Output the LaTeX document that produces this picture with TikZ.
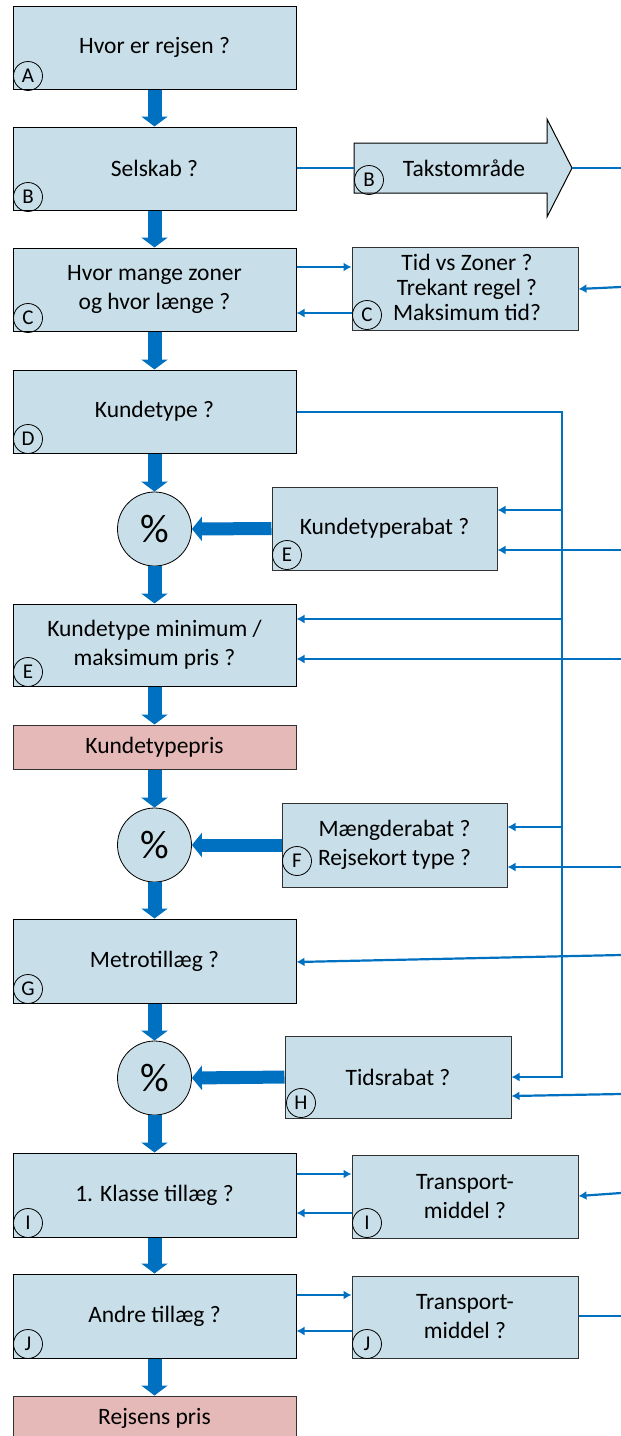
\documentclass[tikz,border=0pt]{standalone}
\usepackage{fontspec}
\setmainfont{Carlito}
\usetikzlibrary{arrows.meta}
\definecolor{boxblue}{RGB}{200,222,232}
\definecolor{boxpink}{RGB}{229,185,183}
\definecolor{linkblue}{RGB}{0,112,192}
\definecolor{darkedge}{RGB}{50,50,50}
\tikzset{
  mainbox/.style={draw=black, line width=1pt, fill=boxblue, minimum width=283pt, minimum height=83pt, inner sep=0pt, align=center, font=\fontsize{23.5}{29}\selectfont},
  pinkbox/.style={draw=darkedge, line width=1pt, fill=boxpink, minimum width=283pt, minimum height=44pt, inner sep=0pt, align=center, font=\fontsize{23.5}{29}\selectfont},
  sidebox/.style={draw=darkedge, line width=1pt, fill=boxblue, minimum width=226pt, minimum height=83pt, inner sep=0pt, align=center, font=\fontsize{23.5}{29}\selectfont},
  pctcircle/.style={circle, draw=black, line width=0.8pt, fill=boxblue, minimum size=74pt, inner sep=0pt, font=\fontsize{40}{44}\selectfont},
  letter/.style={circle, draw=black, line width=0.8pt, minimum size=29pt, inner sep=0pt, font=\fontsize{21}{22}\selectfont},
  bigarrow/.style={draw=linkblue, line width=14pt, -{Triangle[width=26pt,length=10pt]}},
  link/.style={draw=linkblue, line width=2.2pt, -{Latex[length=8pt,width=9pt]}},
  plainlink/.style={draw=linkblue, line width=2.2pt},
}
\begin{document}
\begin{tikzpicture}[x=1pt,y=-1pt]
\useasboundingbox (0,0) rectangle (621,1436);
\begin{scope}
\clip (0,0) rectangle (621,1436);
% main column
\node[mainbox] (A) at (154.5,47.5) {Hvor er rejsen ?};
\node[mainbox] (B) at (154.5,168.5) {Selskab ?};
\node[mainbox] (C) at (154.5,289.5) {Hvor mange zoner\\og hvor længe ?};
\node[mainbox] (D) at (154.5,411.5) {Kundetype ?};
\node[pctcircle] (P1) at (154.5,529) {\%};
\node[mainbox, minimum height=82pt] (E) at (154.5,645) {Kundetype minimum /\\maksimum pris ?};
\node[pinkbox] (KP) at (154.5,747) {Kundetypepris};
\node[pctcircle] (P2) at (154.5,845) {\%};
\node[mainbox, minimum height=84pt] (G) at (154.5,961) {Metrotillæg ?};
\node[pctcircle] (P3) at (154.5,1078) {\%};
\node[mainbox, minimum height=84pt] (I) at (154.5,1195) {1. Klasse tillæg ?};
\node[mainbox, minimum height=84pt] (J) at (154.5,1316) {Andre tillæg ?};
\node[pinkbox] (RP) at (154.5,1418) {Rejsens pris};

% side boxes
\filldraw[draw=black, line width=1pt, fill=boxblue]
  (354,143) -- (547,143) -- (547,119) -- (572,168) -- (547,217) -- (547,193) -- (354,193) -- cycle;
\coordinate (TW) at (354,168);
\coordinate (TT) at (572,168);
\node[font=\fontsize{23.5}{29}\selectfont] (TX) at (464,168) {Takstområde};
\node[sidebox] (CR) at (465,288.5) {};
\node[font=\fontsize{23.5}{25}\selectfont, align=center] at (467,287) {Tid vs Zoner ?\\Trekant regel ?\\Maksimum tid?};
\node[sidebox, minimum width=225pt] (KR) at (384.5,528.5) {Kundetyperabat ?};
\node[sidebox, minimum width=225pt, minimum height=84pt] (FR) at (394.5,845) {Mængderabat ?\\Rejsekort type ?};
\node[sidebox, minimum height=82pt] (HR) at (398,1077) {Tidsrabat ?};
\node[sidebox] (IR) at (465,1196.5) {Transport-\\middel ?};
\node[sidebox, minimum height=82pt] (JR) at (465,1317) {Transport-\\middel ?};

% letter circles
\node[letter] at (28,76) {A};
\node[letter] at (28,197) {B};
\node[letter] at (28,318) {C};
\node[letter] at (28,439) {D};
\node[letter] at (28,672) {E};
\node[letter] at (28,989) {G};
\node[letter] at (28,1223) {I};
\node[letter] at (28,1344) {J};
\node[letter] at (369,180) {B};
\node[letter] at (367,315) {C};
\node[letter] at (287,555) {E};
\node[letter] at (297,861) {F};
\node[letter] at (301,1103) {H};
\node[letter] at (367,1223) {I};
\node[letter] at (367,1344) {J};

% thick flow arrows
\draw[bigarrow] (A.south) -- (B.north);
\draw[bigarrow] (B.south) -- (C.north);
\draw[bigarrow] (C.south) -- (D.north);
\draw[bigarrow] (D.south) -- (P1.north);
\draw[bigarrow] (P1.south) -- (E.north);
\draw[bigarrow] (E.south) -- (KP.north);
\draw[bigarrow] (KP.south) -- (P2.north);
\draw[bigarrow] (P2.south) -- (G.north);
\draw[bigarrow] (G.south) -- (P3.north);
\draw[bigarrow] (P3.south) -- (I.north);
\draw[bigarrow] (I.south) -- (J.north);
\draw[bigarrow] (J.south) -- (RP.north);
\draw[bigarrow, line width=13pt, -{Triangle[width=24pt,length=10pt]}] (KR.west) -- (P1.east);
\draw[bigarrow, line width=13pt, -{Triangle[width=24pt,length=10pt]}] (FR.west) -- (P2.east);
\draw[bigarrow, line width=13pt, -{Triangle[width=24pt,length=10pt]}] (HR.west) -- (P3.east);

% free ends on the right edge
\coordinate (R1) at (621,168);
\coordinate (R2) at (621,287);
\coordinate (R3) at (621,550);
\coordinate (R4) at (621,659);
\coordinate (R5) at (621,867);
\coordinate (R6) at (621,955);
\coordinate (R7) at (621,1094);
\coordinate (R8) at (621,1193);
\coordinate (R9) at (621,1316);
\coordinate (V) at (562,412);

% thin connectors
\draw[plainlink] (B.east |- TW) -- (TW);
\draw[plainlink] (TT) -- (R1);
\draw[link] (C.east |- 0,267) -- (CR.west |- 0,267);
\draw[link] (CR.west |- 0,313) -- (C.east |- 0,313);
\draw[link] (R2) -- (CR.east |- 0,289);
\draw[link] (D.east |- V) -- (V) -- (V |- 0,1077) -- (HR.east |- 0,1077);
\draw[link] (V |- 0,510) -- (KR.east |- 0,510);
\draw[link] (R3) -- (KR.east |- R3);
\draw[link] (V |- 0,619) -- (E.east |- 0,619);
\draw[link] (R4) -- (E.east |- R4);
\draw[link] (V |- 0,827) -- (FR.east |- 0,827);
\draw[link] (R5) -- (FR.east |- R5);
\draw[link] (R6) -- (G.east |- 0,962);
\draw[link] (R7) -- (HR.east |- 0,1096);
\draw[link] (I.east |- 0,1174) -- (IR.west |- 0,1174);
\draw[link] (IR.west |- 0,1213) -- (I.east |- 0,1213);
\draw[link] (R8) -- (IR.east |- 0,1196);
\draw[link] (J.east |- 0,1295) -- (JR.west |- 0,1295);
\draw[link] (JR.west |- 0,1331) -- (J.east |- 0,1331);
\draw[plainlink] (JR.east |- R9) -- (R9);
\end{scope}
\end{tikzpicture}
\end{document}
